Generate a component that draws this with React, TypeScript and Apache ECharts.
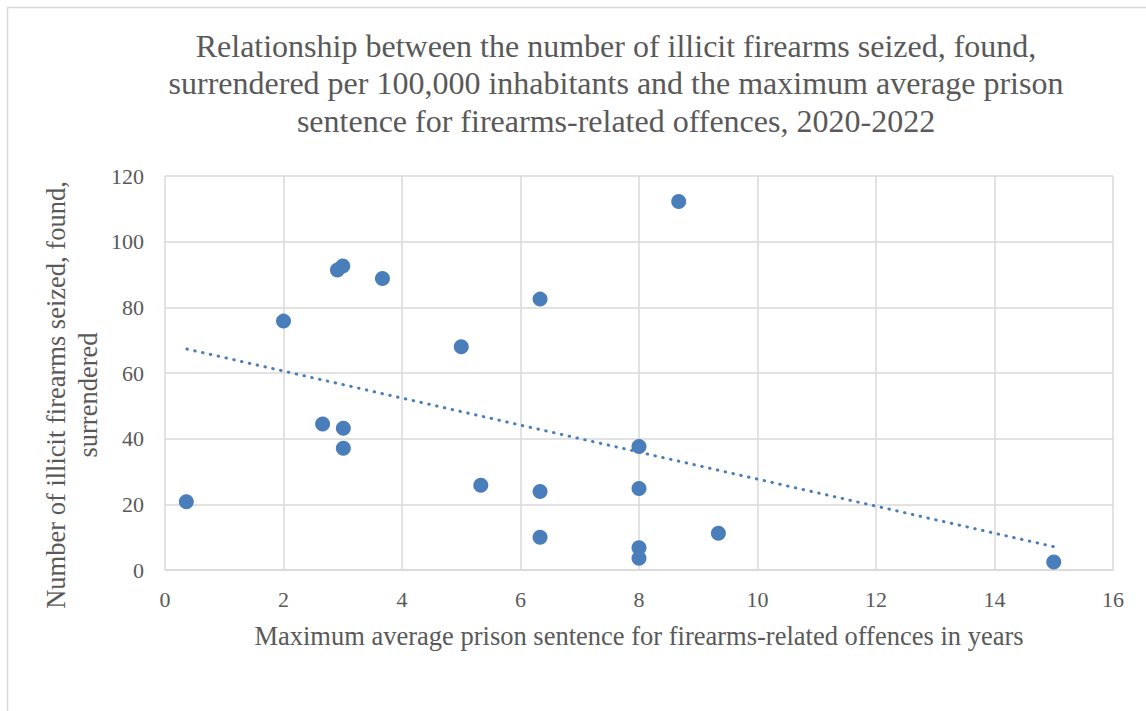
import React, { useEffect, useRef } from "react";
import * as echarts from "echarts";

const titleLines = [
  "Relationship between the number of illicit firearms seized, found,",
  "surrendered per 100,000 inhabitants and the maximum average prison",
  "sentence for firearms-related offences, 2020-2022",
];
const xAxisTitle = "Maximum average prison sentence for firearms-related offences in years";
const yAxisTitleLines = ["Number of illicit firearms seized, found,", "surrendered"];

const sentenceYears = [0.36, 2.0, 2.66, 2.91, 3.0, 3.01, 3.01, 3.67, 5.0, 5.33, 6.33, 6.33, 6.33, 8.0, 8.0, 8.0, 8.0, 8.67, 9.34, 15.0];
const firearmsPer100k = [20.8, 75.8, 44.5, 91.4, 92.6, 43.2, 37.1, 88.8, 68.0, 25.8, 82.5, 23.9, 10.0, 37.6, 24.8, 6.8, 3.6, 112.2, 11.2, 2.4];

const trendX = [0.37, 15.0];
const trendY = [67.3, 7.1];

const FONT = "'Liberation Serif', 'Times New Roman', serif";
const GRAY = "#595959";
const GRID = "#d9d9d9";
const BLUE = "#4a7ebb";

export default function App() {
  const ref = useRef<HTMLDivElement>(null);
  useEffect(() => {
    if (!ref.current) return;
    const chart = echarts.init(ref.current, null, { renderer: "svg" });
    chart.setOption({
      animation: false,
      backgroundColor: "#ffffff",
      grid: { left: 165, top: 176, right: 33, bottom: 141 },
      xAxis: {
        type: "value",
        min: 0,
        max: 16,
        interval: 2,
        axisLine: { show: true, lineStyle: { color: GRID, width: 1.5 } },
        axisTick: { show: false },
        splitLine: { show: true, lineStyle: { color: GRID, width: 1.5 } },
        axisLabel: { color: GRAY, fontFamily: FONT, fontSize: 22, margin: 18 },
      },
      yAxis: {
        type: "value",
        min: 0,
        max: 120,
        interval: 20,
        axisLine: { show: false },
        axisTick: { show: false },
        splitLine: { show: true, lineStyle: { color: GRID, width: 1.5 } },
        axisLabel: { color: GRAY, fontFamily: FONT, fontSize: 22, margin: 21 },
      },
      graphic: [
        {
          type: "rect",
          silent: true,
          shape: { x: 7.5, y: 7.5, width: 1200, height: 800 },
          style: { fill: "none", stroke: GRID, lineWidth: 1.5 },
        },
        {
          type: "text",
          x: 616,
          y: 27,
          style: {
            text: titleLines.join("\n"),
            font: `32px ${FONT}`,
            fill: GRAY,
            textAlign: "center",
            textVerticalAlign: "top",
            lineHeight: 37.5,
          },
        },
        {
          type: "text",
          x: 639,
          y: 636,
          style: {
            text: xAxisTitle,
            font: `26.5px ${FONT}`,
            fill: GRAY,
            textAlign: "center",
            textVerticalAlign: "middle",
          },
        },
        {
          type: "text",
          x: 72,
          y: 395,
          rotation: Math.PI / 2,
          style: {
            text: yAxisTitleLines.join("\n"),
            font: `26.5px ${FONT}`,
            fill: GRAY,
            textAlign: "center",
            textVerticalAlign: "middle",
            lineHeight: 32,
          },
        },
      ],
      series: [
        {
          type: "line",
          data: trendX.map((x, i) => [x, trendY[i]]),
          symbol: "none",
          lineStyle: { color: BLUE, width: 3, type: [0.5, 7.5], cap: "round" },
          silent: true,
          z: 2,
        },
        {
          type: "scatter",
          data: sentenceYears.map((x, i) => [x, firearmsPer100k[i]]),
          symbol: "circle",
          symbolSize: 15,
          itemStyle: { color: BLUE, opacity: 1 },
          z: 3,
        },
      ],
    });
    return () => chart.dispose();
  }, []);
  return (
    <div
      ref={ref}
      style={{ position: "absolute", left: 0, top: 0, width: 1146, height: 711 }}
    />
  );
}
